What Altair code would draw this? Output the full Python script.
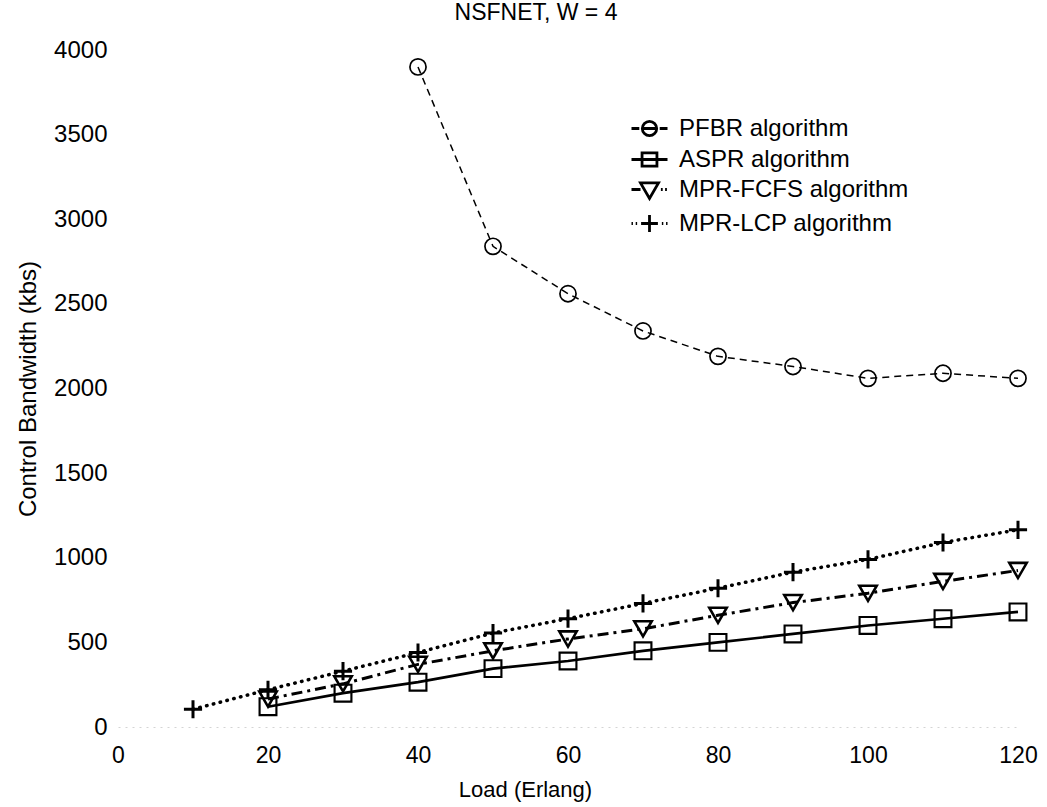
import altair as alt
import pandas as pd

series_names = ["PFBR algorithm", "ASPR algorithm", "MPR-FCFS algorithm", "MPR-LCP algorithm"]

load_pfbr = [40, 50, 60, 70, 80, 90, 100, 110, 120]
bw_pfbr = [3900, 2840, 2560, 2340, 2190, 2130, 2060, 2090, 2060]

load_aspr = [20, 30, 40, 50, 60, 70, 80, 90, 100, 110, 120]
bw_aspr = [120, 200, 265, 345, 390, 450, 500, 550, 600, 640, 680]

load_fcfs = [20, 30, 40, 50, 60, 70, 80, 90, 100, 110, 120]
bw_fcfs = [165, 255, 370, 450, 520, 580, 660, 735, 790, 860, 925]

load_lcp = [10, 20, 30, 40, 50, 60, 70, 80, 90, 100, 110, 120]
bw_lcp = [105, 220, 330, 440, 555, 640, 730, 820, 915, 990, 1090, 1165]

x_ticks = [0, 20, 40, 60, 80, 100, 120]
y_ticks = [0, 500, 1000, 1500, 2000, 2500, 3000, 3500, 4000]

rows = []
for name, xs, ys in zip(series_names,
                        [load_pfbr, load_aspr, load_fcfs, load_lcp],
                        [bw_pfbr, bw_aspr, bw_fcfs, bw_lcp]):
    for a, b in zip(xs, ys):
        rows.append({"series": name, "load": a, "bw": b})
df = pd.DataFrame(rows)

FONT = "Liberation Sans"

x_enc = alt.X("load:Q",
              scale=alt.Scale(domain=[0, 120], nice=False, zero=False),
              axis=alt.Axis(values=x_ticks, format="d", title="Load (Erlang)", ticks=False,
                            grid=False, labelPadding=17, labelFlush=False,
                            domain=True, domainColor="#d4d4d4",
                            domainDash=[2, 5], domainWidth=1,
                            labelFont=FONT, labelFontSize=23, labelColor="black",
                            titleFont=FONT, titleFontSize=22, titleFontWeight="normal",
                            titleColor="black",
                            titleX=407, titleY=62, titleBaseline="middle",
                            titleAnchor="start", titleAlign="center"))
y_enc = alt.Y("bw:Q",
              scale=alt.Scale(domain=[0, 4000], nice=False),
              axis=alt.Axis(values=y_ticks, format="d", title="Control Bandwidth (kbs)",
                            ticks=False, grid=False, labelPadding=11, labelFlush=False,
                            domain=False,
                            labelFont=FONT, labelFontSize=24, labelColor="black",
                            titleFont=FONT, titleFontSize=24, titleFontWeight="normal",
                            titleColor="black",
                            titleX=-90, titleBaseline="middle"))

base = alt.Chart(df)

line_styles = {
    "PFBR algorithm": dict(strokeDash=[7, 5], strokeWidth=1.5),
    "ASPR algorithm": dict(strokeWidth=2.6),
    "MPR-FCFS algorithm": dict(strokeDash=[11, 5, 3, 5], strokeWidth=3),
    "MPR-LCP algorithm": dict(strokeDash=[0.5, 6.5], strokeWidth=3.5, strokeCap="round"),
}

layers = []
for name in series_names:
    layers.append(
        base.transform_filter(alt.datum.series == name)
        .mark_line(color="black", **line_styles[name])
        .encode(x=x_enc, y=y_enc)
    )

plus_path = "M-1,0L1,0M0,-1L0,1"
points = base.mark_point(filled=False, color="black", opacity=1).encode(
    x=x_enc, y=y_enc,
    shape=alt.Shape("series:N",
                    scale=alt.Scale(domain=series_names,
                                    range=["circle", "square", "triangle-down", plus_path]),
                    legend=None),
    size=alt.Size("series:N",
                  scale=alt.Scale(domain=series_names, range=[260, 330, 380, 320]),
                  legend=None),
    strokeWidth=alt.StrokeWidth("series:N",
                                scale=alt.Scale(domain=series_names, range=[1.7, 3.0, 3.4, 4.0]),
                                legend=None),
)
layers.append(points)

# legend symbols: unit = 12 px, horizontal extent -1.5..1.5 (36 px)
legend_paths = [
    "M-1.5,0L-0.85,0M-0.6,0L0.6,0M0.85,0L1.5,0"
    "M0.6,0A0.6,0.6,0,1,1,-0.6,0A0.6,0.6,0,1,1,0.6,0",
    "M-1.5,0L1.5,0M-0.62,-0.55L0.62,-0.55L0.62,0.55L-0.62,0.55Z",
    "M-1.5,0L-0.75,0M0.95,0L1.1,0M1.3,0L1.45,0"
    "M-0.75,-0.55L0.75,-0.55L0,0.75Z",
    "M-1.5,0L-1.38,0M-1.15,0L-1.03,0M1.03,0L1.15,0M1.38,0L1.5,0"
    "M-0.7,0L0.7,0M0,-0.7L0,0.7",
]

legend_layer = base.transform_filter("datum.load < 0").mark_point(
    filled=False, color="black", opacity=1).encode(
    x=x_enc, y=y_enc,
    shape=alt.Shape("series:N",
                    scale=alt.Scale(domain=series_names, range=legend_paths),
                    legend=alt.Legend(title=None, orient="none", legendX=518, legendY=65,
                                      symbolSize=576, symbolStrokeWidth=2.8,
                                      symbolStrokeColor="black", symbolFillColor="transparent",
                                      labelFontSize=24, labelFont=FONT, labelColor="black",
                                      labelOffset=16, rowPadding=4, labelLimit=400)),
)
layers.append(legend_layer)

chart = alt.layer(*layers).resolve_scale(shape="independent").properties(
    width=900,
    height=677,
    background="white",
    autosize=alt.AutoSizeParams(type="none"),
    padding={"left": 118, "top": 50, "right": 29, "bottom": 80},
    title=alt.Title("NSFNET, W = 4", fontSize=23, fontWeight="normal", font=FONT,
                    color="black", anchor="middle", dx=-32, offset=13),
).configure_view(stroke=None)

chart.save("out.html", embed_options={"renderer": "svg", "actions": False})
